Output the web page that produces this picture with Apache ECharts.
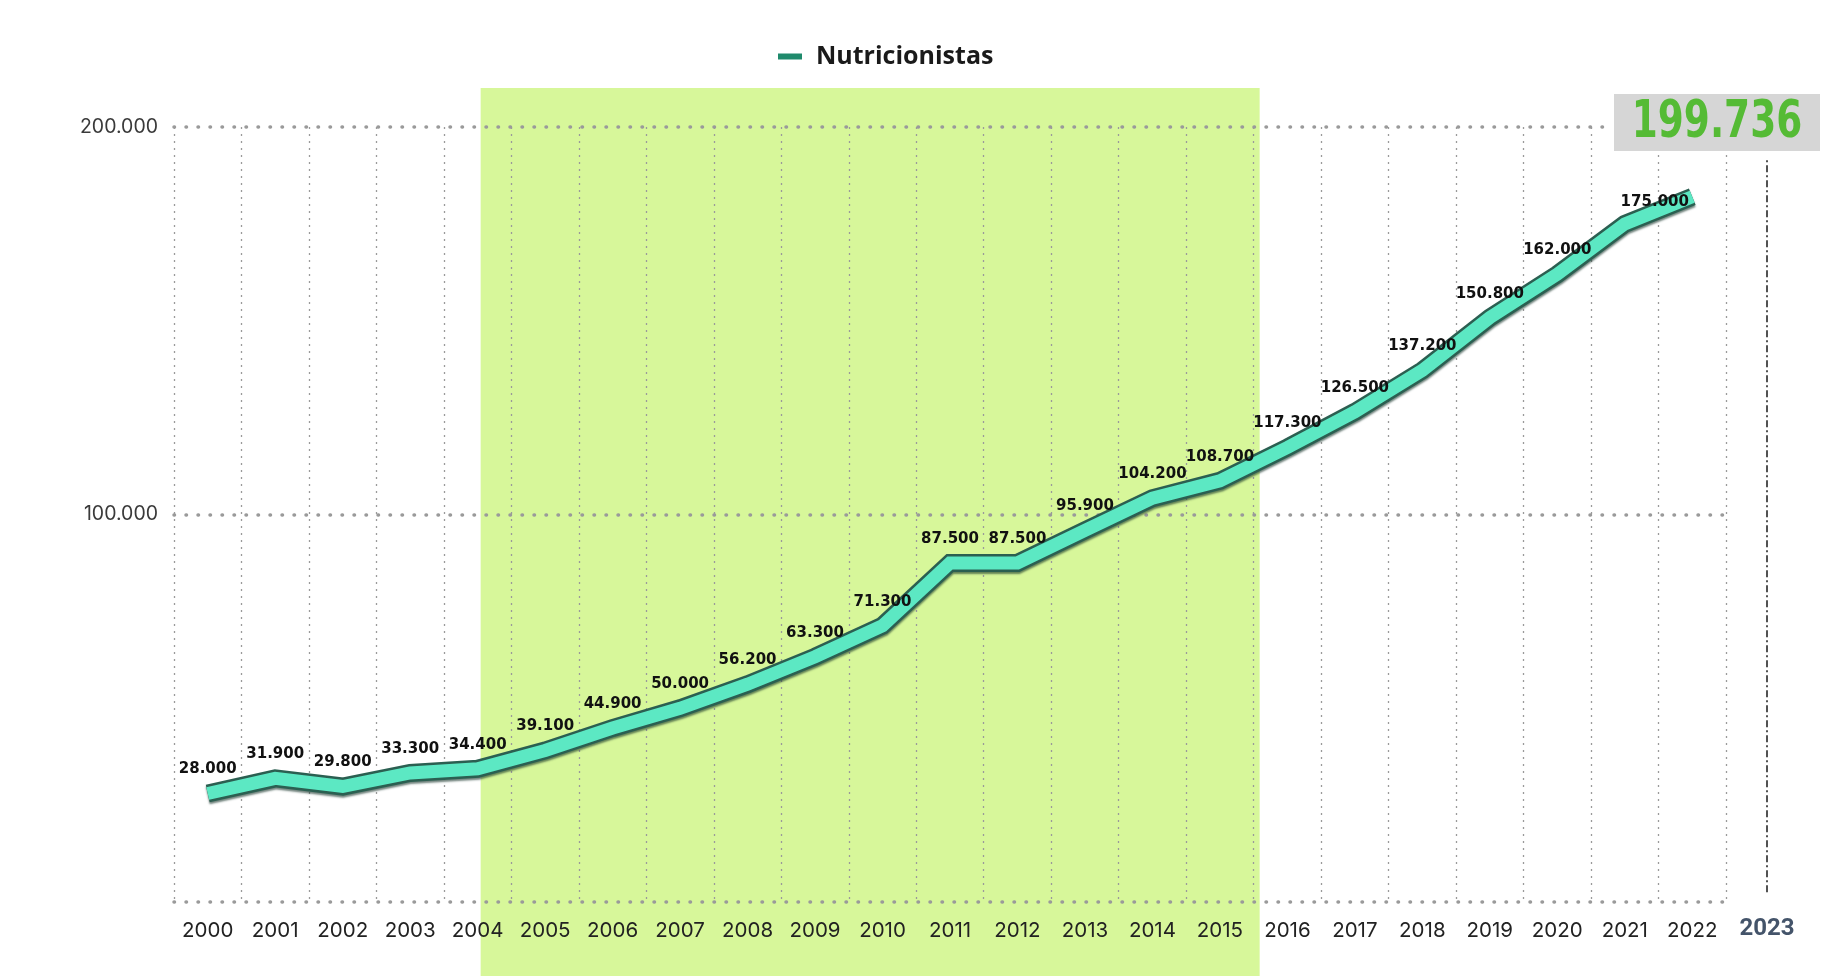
<!DOCTYPE html>
<html>
<head>
<meta charset="utf-8">
<script src="https://cdn.jsdelivr.net/npm/echarts@6/dist/echarts.min.js"></script>
<style>
html,body{margin:0;padding:0;background:#ffffff;}
#c{width:1841px;height:976px;}
</style>
</head>
<body>
<div id="c"></div>
<script>
// ---- data ----
const years = ['2000','2001','2002','2003','2004','2005','2006','2007','2008','2009','2010','2011','2012','2013','2014','2015','2016','2017','2018','2019','2020','2021','2022'];
const nutricionistas = [28000,31900,29800,33300,34400,39100,44900,50000,56200,63300,71300,87500,87500,95900,104200,108700,117300,126500,137200,150800,162000,175000,182000];
const unlabeledYears = ['2022'];
const highlightYear = ['2023'];
const highlightValue = [199736];
const highlightLineRange = [2500, 192000];
const highlightSpan = ['2004','2015'];
const yTicks = [0, 100000, 200000];

const fmt = v => String(v).replace(/\B(?=(\d{3})+(?!\d))/g, '.');

const chart = echarts.init(document.getElementById('c'), null, {renderer:'canvas'});

const gridTop = 127, gridBottom = 976 - 902;
const gridLeft = 174, gridRight1 = 1726;
const band = (gridRight1 - gridLeft) / years.length;

const mainData = nutricionistas.map((v, i) => {
  const d = { value: v };
  if (unlabeledYears.includes(years[i])) d.label = { show: false };
  if (years[i] === '2021') d.label = { offset: [30, 2] };
  return d;
});

const option = {
  backgroundColor: '#ffffff',
  animation: false,
  legend: {
    left: 773, top: 39,
    icon: 'rect', itemWidth: 24, itemHeight: 6,
    data: [{ name: 'Nutricionistas', itemStyle: { color: '#1f8a6c' } }],
    textStyle: { fontFamily: '"Open Sans", sans-serif', fontWeight: 'bold', fontSize: 25, color: '#1a1a1a', padding: [0, 0, 0, 9] },
    selectedMode: false
  },
  grid: [
    { left: gridLeft, top: gridTop, width: gridRight1 - gridLeft, bottom: gridBottom, containLabel: false },
    { left: gridRight1, top: gridTop, width: 82, bottom: gridBottom, containLabel: false }
  ],
  xAxis: [
    {
      type: 'category', gridIndex: 0, data: years, boundaryGap: true,
      axisLine: { show: false }, axisTick: { show: false },
      axisLabel: { color: '#222', fontFamily: 'Inter, sans-serif', fontSize: 20.5, margin: 18, interval: 0 },
      splitLine: { show: true, lineStyle: { color: '#9a9a9a', width: 1.3, type: [2, 5] } }
    },
    {
      type: 'category', gridIndex: 1, data: highlightYear, boundaryGap: true,
      axisLine: { show: false }, axisTick: { show: false },
      axisLabel: { color: '#44546a', fontFamily: 'Roboto, sans-serif', fontWeight: 'bold', fontSize: 24, margin: 15 },
      splitLine: { show: false }
    }
  ],
  yAxis: [
    {
      type: 'value', gridIndex: 0, min: yTicks[0], max: yTicks[yTicks.length - 1], interval: yTicks[1] - yTicks[0],
      axisLine: { show: false }, axisTick: { show: false },
      axisLabel: { color: '#3a3a3a', fontFamily: 'Inter, sans-serif', fontSize: 19.5, margin: 16,
        formatter: v => v === 0 ? '' : fmt(v) },
      splitLine: { show: true, lineStyle: { color: '#9a9a9a', width: 3.5, type: [0.5, 11.5], cap: 'round' } }
    },
    {
      type: 'value', gridIndex: 1, min: yTicks[0], max: yTicks[yTicks.length - 1], show: false,
      splitLine: { show: false }
    }
  ],
  series: [
    {
      name: 'Nutricionistas', type: 'line', xAxisIndex: 0, yAxisIndex: 0,
      data: nutricionistas, symbol: 'none', silent: true, z: 3,
      lineStyle: { color: '#2b5f51', width: 18, join: 'miter', cap: 'butt',
        shadowColor: 'rgba(20,50,40,0.6)', shadowBlur: 2, shadowOffsetY: 2 },
      label: { show: false }
    },
    {
      name: 'Nutricionistas', type: 'line', xAxisIndex: 0, yAxisIndex: 0,
      data: mainData, symbol: 'circle', symbolSize: 1, showSymbol: true, z: 4,
      lineStyle: { color: '#5ce8c3', width: 13, join: 'miter', cap: 'butt' },
      itemStyle: { color: 'rgba(0,0,0,0)' },
      label: {
        show: true, position: 'top', distance: 16,
        formatter: p => fmt(p.value),
        fontFamily: '"DejaVu Sans", sans-serif', fontWeight: 'bold', fontSize: 15, color: '#111'
      }
    },
    {
      name: 'Total 2023', type: 'scatter', xAxisIndex: 1, yAxisIndex: 1,
      data: highlightValue, symbolSize: 0, z: 6,
      label: { show: false },
      markLine: {
        silent: true, symbol: ['none', 'none'], z: 5,
        label: { show: false },
        lineStyle: { color: '#1a1a1a', width: 1.5, type: [7, 3, 2, 3] },
        data: [[{ coord: [highlightYear[0], highlightLineRange[0]] }, { coord: [highlightYear[0], highlightLineRange[1]] }]]
      }
    }
  ]
};

chart.setOption(option);

// highlight band derived from the category axis
const xStart = chart.convertToPixel({ xAxisIndex: 0 }, highlightSpan[0]);
const iEnd = years.indexOf(highlightSpan[1]);
const xEnd = chart.convertToPixel({ xAxisIndex: 0 }, years[iEnd]) + band / 2 + 6;
// 2023 value box anchored to the 2023 point
const pt = chart.convertToPixel({ gridIndex: 1 }, [highlightYear[0], highlightValue[0]]);
const bx = pt[0] - 50, by = pt[1] - 6;
chart.setOption({
  graphic: {
    elements: [
      {
        type: 'rect', z: -10, silent: true,
        shape: { x: xStart + 3, y: 88, width: xEnd - xStart - 3, height: 976 - 88 },
        style: { fill: '#d7f79a' }
      },
      {
        type: 'rect', z: 20, silent: true,
        shape: { x: bx - 106, y: by - 31, width: 212, height: 63 },
        style: { fill: '#ffffff' }
      },
      {
        type: 'rect', z: 21, silent: true,
        shape: { x: bx - 103, y: by - 28, width: 206, height: 57 },
        style: { fill: '#d6d6d6' }
      },
      {
        type: 'text', z: 22, silent: true,
        x: bx, y: by + 1, scaleX: 0.72,
        style: {
          text: fmt(highlightValue[0]),
          font: 'bold 52px "DejaVu Sans", sans-serif',
          fill: '#55bb35', align: 'center', verticalAlign: 'middle',
          shadowColor: 'rgba(0,0,0,0.35)', shadowBlur: 2, shadowOffsetX: 1, shadowOffsetY: 1
        }
      }
    ]
  }
});
</script>
</body>
</html>
